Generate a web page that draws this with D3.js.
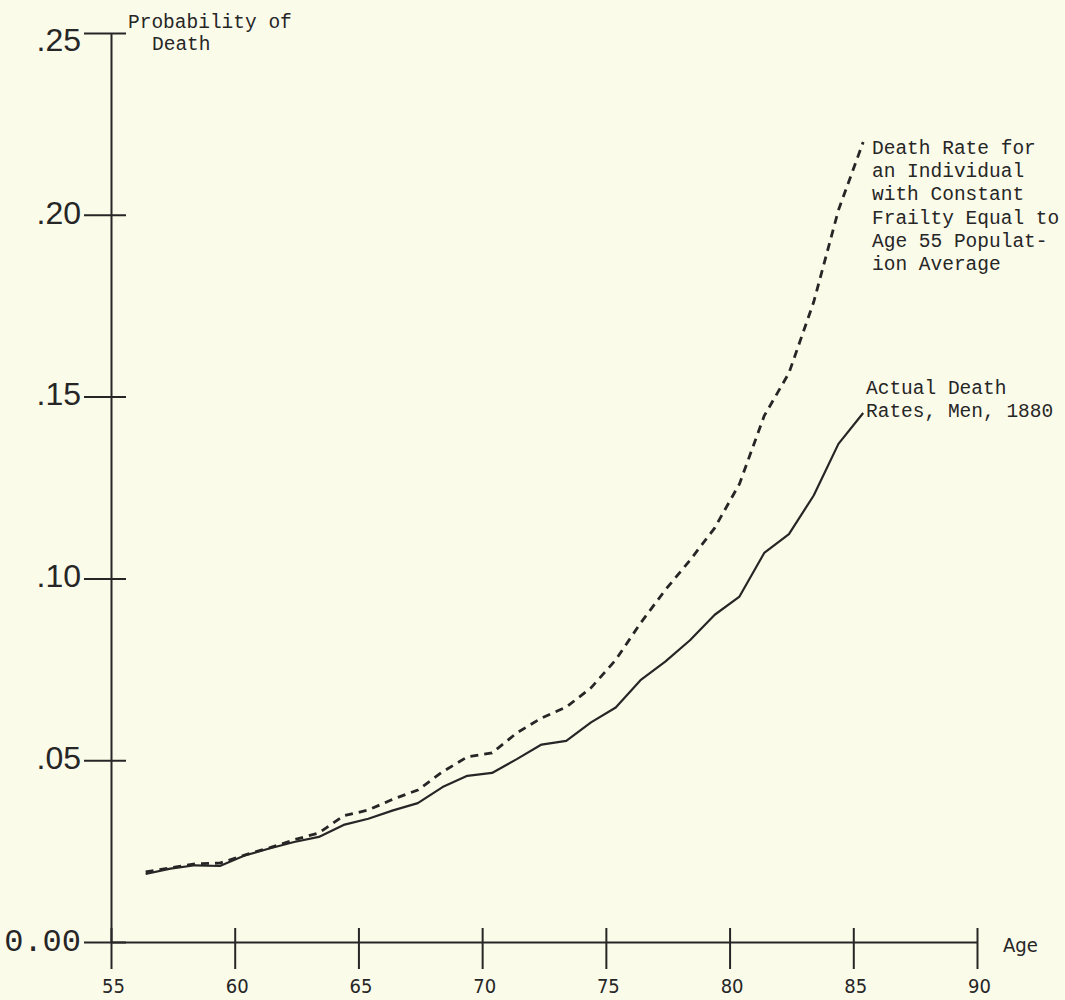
<!DOCTYPE html>
<html>
<head>
<meta charset="utf-8">
<script src="https://cdn.jsdelivr.net/npm/d3@7"></script>
<style>
body { margin: 0; background: #fbfbea; }
svg { display: block; }
</style>
</head>
<body>
<script>
// ages at which the plotted rates sit
var ages = [56.4, 57.4, 58.4, 59.4, 60.4, 61.4, 62.4, 63.4, 64.4, 65.4,
            66.4, 67.4, 68.4, 69.4, 70.4, 71.4, 72.4, 73.4, 74.4, 75.4,
            76.4, 77.4, 78.4, 79.4, 80.4, 81.4, 82.4, 83.4, 84.4, 85.4];

// Actual Death Rates, Men, 1880 (solid)
var actualRates = [0.0187, 0.0202, 0.0211, 0.0209, 0.0238, 0.0257, 0.0275, 0.0289, 0.0322, 0.0339,
                   0.0362, 0.0382, 0.0426, 0.0457, 0.0465, 0.0503, 0.0543, 0.0553, 0.0604, 0.0645,
                   0.0720, 0.0771, 0.0830, 0.0900, 0.0950, 0.1070, 0.1122, 0.1228, 0.1370, 0.1455];

// constant frailty death rate (dashed)
var frailtyRates = [0.0193, 0.0204, 0.0215, 0.0217, 0.0239, 0.0259, 0.0281, 0.0300, 0.0347, 0.0363,
                    0.0393, 0.0418, 0.0468, 0.0509, 0.0520, 0.0575, 0.0616, 0.0646, 0.0699, 0.0776,
                    0.0877, 0.0968, 0.1050, 0.1139, 0.1260, 0.1447, 0.1565, 0.1760, 0.2013, 0.2200];

var xTicks = [55, 60, 65, 70, 75, 80, 85, 90];
var yTicks = [0, 0.05, 0.10, 0.15, 0.20, 0.25];
var yTickLabels = ["0.00", ".05", ".10", ".15", ".20", ".25"];

var yTitle = ["Probability of", "Death"];
var frailtyLabel = ["Death Rate for", "an Individual", "with Constant", "Frailty Equal to", "Age 55 Populat-", "ion Average"];
var actualLabel = ["Actual Death", "Rates, Men, 1880"];

var ink = "#262626";
var mono = "'Liberation Mono', 'DejaVu Sans Mono', monospace";
var narrow = "'Liberation Sans Narrow', 'DejaVu Sans Condensed', 'Liberation Sans', sans-serif";

var svg = d3.select("body")
    .append("svg")
    .attr("width", 1065)
    .attr("height", 1000);

svg.append("rect")
    .attr("width", 1065)
    .attr("height", 1000)
    .attr("fill", "#fbfbea");

var x = d3.scaleLinear().domain([55, 90]).range([111, 977]);
var y = d3.scaleLinear().domain([0, 0.25]).range([942, 33]);

// y axis, ticks cross the line
var yAxis = svg.append("g")
    .attr("transform", "translate(111,0)")
    .call(d3.axisLeft(y)
        .tickValues(yTicks)
        .tickSize(27)
        .tickSizeOuter(0)
        .tickFormat(function(d, i) { return yTickLabels[i]; }));
yAxis.select(".domain").attr("stroke", ink).attr("stroke-width", 2);
yAxis.selectAll(".tick line").attr("x1", 15).attr("stroke", ink).attr("stroke-width", 2);
yAxis.selectAll(".tick text")
    .attr("x", -30)
    .attr("dy", function(d) { return d == 0.25 ? "0.54em" : "0.26em"; })
    .attr("fill", ink)
    .style("font-family", function(d) { return d == 0 ? mono : "'Liberation Sans', Arial, sans-serif"; })
    .style("font-size", function(d) { return d == 0 ? "32px" : "32px"; });

// x axis
var xAxis = svg.append("g")
    .attr("transform", "translate(0,942)")
    .call(d3.axisBottom(x)
        .tickValues(xTicks)
        .tickSize(27)
        .tickSizeOuter(0));
xAxis.select(".domain").attr("stroke", ink).attr("stroke-width", 2);
xAxis.selectAll(".tick line").attr("y1", -14).attr("stroke", ink).attr("stroke-width", 2);
xAxis.selectAll(".tick text")
    .attr("x", 2)
    .attr("y", 51)
    .attr("dy", 0)
    .attr("fill", ink)
    .style("font-family", narrow)
    .style("font-size", "20px");

svg.append("text")
    .attr("x", 1003)
    .attr("y", 952)
    .attr("fill", ink)
    .style("font-family", narrow)
    .style("font-size", "20px")
    .text("Age");

// y title
svg.append("text")
    .attr("fill", ink)
    .style("font-family", mono)
    .style("font-size", "19.5px")
    .selectAll("tspan")
    .data(yTitle)
    .enter()
    .append("tspan")
    .attr("x", function(d, i) { return i == 0 ? 128 : 152; })
    .attr("y", function(d, i) { return 28 + i * 22; })
    .text(function(d) { return d; });

// lines
var line = d3.line()
    .x(function(d) { return x(d[0]); })
    .y(function(d) { return y(d[1]); });

svg.append("path")
    .datum(d3.zip(ages, frailtyRates))
    .attr("d", line)
    .attr("fill", "none")
    .attr("stroke", ink)
    .attr("stroke-width", 2.8)
    .attr("stroke-dasharray", "8,6");

svg.append("path")
    .datum(d3.zip(ages, actualRates))
    .attr("d", line)
    .attr("fill", "none")
    .attr("stroke", ink)
    .attr("stroke-width", 2.2)
    .attr("stroke-linejoin", "round");

// annotations
svg.append("text")
    .attr("fill", ink)
    .style("font-family", mono)
    .style("font-size", "19.5px")
    .selectAll("tspan")
    .data(frailtyLabel)
    .enter()
    .append("tspan")
    .attr("x", 872)
    .attr("y", function(d, i) { return 154 + i * 23.2; })
    .text(function(d) { return d; });

svg.append("text")
    .attr("fill", ink)
    .style("font-family", mono)
    .style("font-size", "19.5px")
    .selectAll("tspan")
    .data(actualLabel)
    .enter()
    .append("tspan")
    .attr("x", 866)
    .attr("y", function(d, i) { return 394 + i * 23; })
    .text(function(d) { return d; });
</script>
</body>
</html>
